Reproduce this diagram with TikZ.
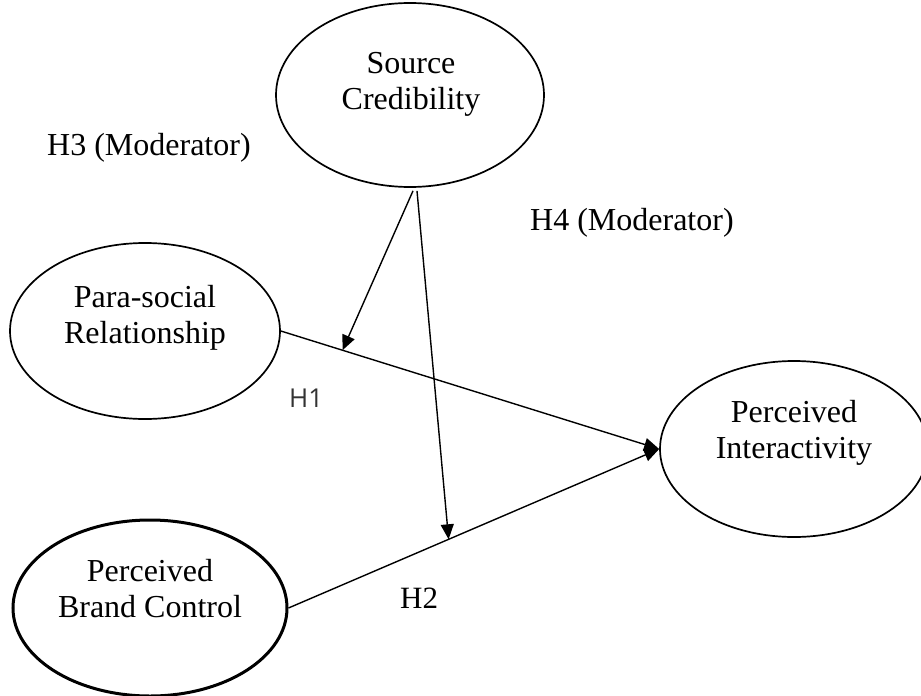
\documentclass[tikz,border=0pt]{standalone}
\usepackage{fontspec}
\setmainfont{Liberation Serif}
\newfontfamily\hlabelfont{Open Sans}
\usetikzlibrary{shapes.geometric,arrows.meta,calc}

\tikzset{
  construct/.style={draw=black, ellipse, line width=1.7pt, inner sep=0pt},
  boldconstruct/.style={construct, line width=3pt},
  ctext/.style={align=center, font=\fontsize{32}{36}\selectfont, inner sep=0pt},
  hyp/.style={font=\fontsize{32}{36}\selectfont, inner sep=0pt, anchor=base west},
  hypsans/.style={font=\hlabelfont\fontsize{26}{30}\selectfont, text=black!80, inner sep=0pt, anchor=base west},
  path/.style={draw=black, line width=1.4pt},
  tip/.style={-{Triangle[length=15pt,width=13pt]}}
}

\begin{document}
\begin{tikzpicture}[x=1pt,y=-1pt]
  \useasboundingbox (0,0) rectangle (921,696);

  % constructs
  \node[construct, minimum width=268pt, minimum height=184pt] (sc) at (410,95) {};
  \node[construct, minimum width=270pt, minimum height=176pt] (ps) at (145,331) {};
  \node[construct, minimum width=268pt, minimum height=176pt] (pi) at (794,449) {};
  \node[boldconstruct, minimum width=274pt, minimum height=176pt] (bc) at (150,608) {};

  % construct names
  \node[ctext] (sct) at (411,84) {Source\\Credibility};
  \node[ctext] (pst) at (145,318) {Para-social\\Relationship};
  \node[ctext] (pit) at (794,433) {Perceived\\Interactivity};
  \node[ctext] (bct) at (150,589) {Perceived\\Brand Control};

  % direct effects
  \draw[path, tip] (ps.east) -- (pi.west);
  \draw[path, tip] (bc.east) -- (pi.west);

  % moderating effects
  \coordinate (s3) at ($(sc.south)+(3,3)$);
  \coordinate (s4) at ($(sc.south)+(7,3)$);
  \coordinate (m1) at ($(ps.east)!0.163!(pi.west)$);
  \coordinate (m2) at ($(bc.east)!0.432!(pi.west)$);
  \draw[path, tip] (s3) -- (m1);
  \draw[path, tip] (s4) -- (m2);

  % hypothesis labels
  \node[hyp] (h3) at (47,155) {H3 (Moderator)};
  \node[hyp] (h4) at (530,230) {H4 (Moderator)};
  \node[hypsans] (h1) at (289,407) {H1};
  \node[hyp, font=\fontsize{31}{36}\selectfont] (h2) at (400,608) {H2};
\end{tikzpicture}
\end{document}
